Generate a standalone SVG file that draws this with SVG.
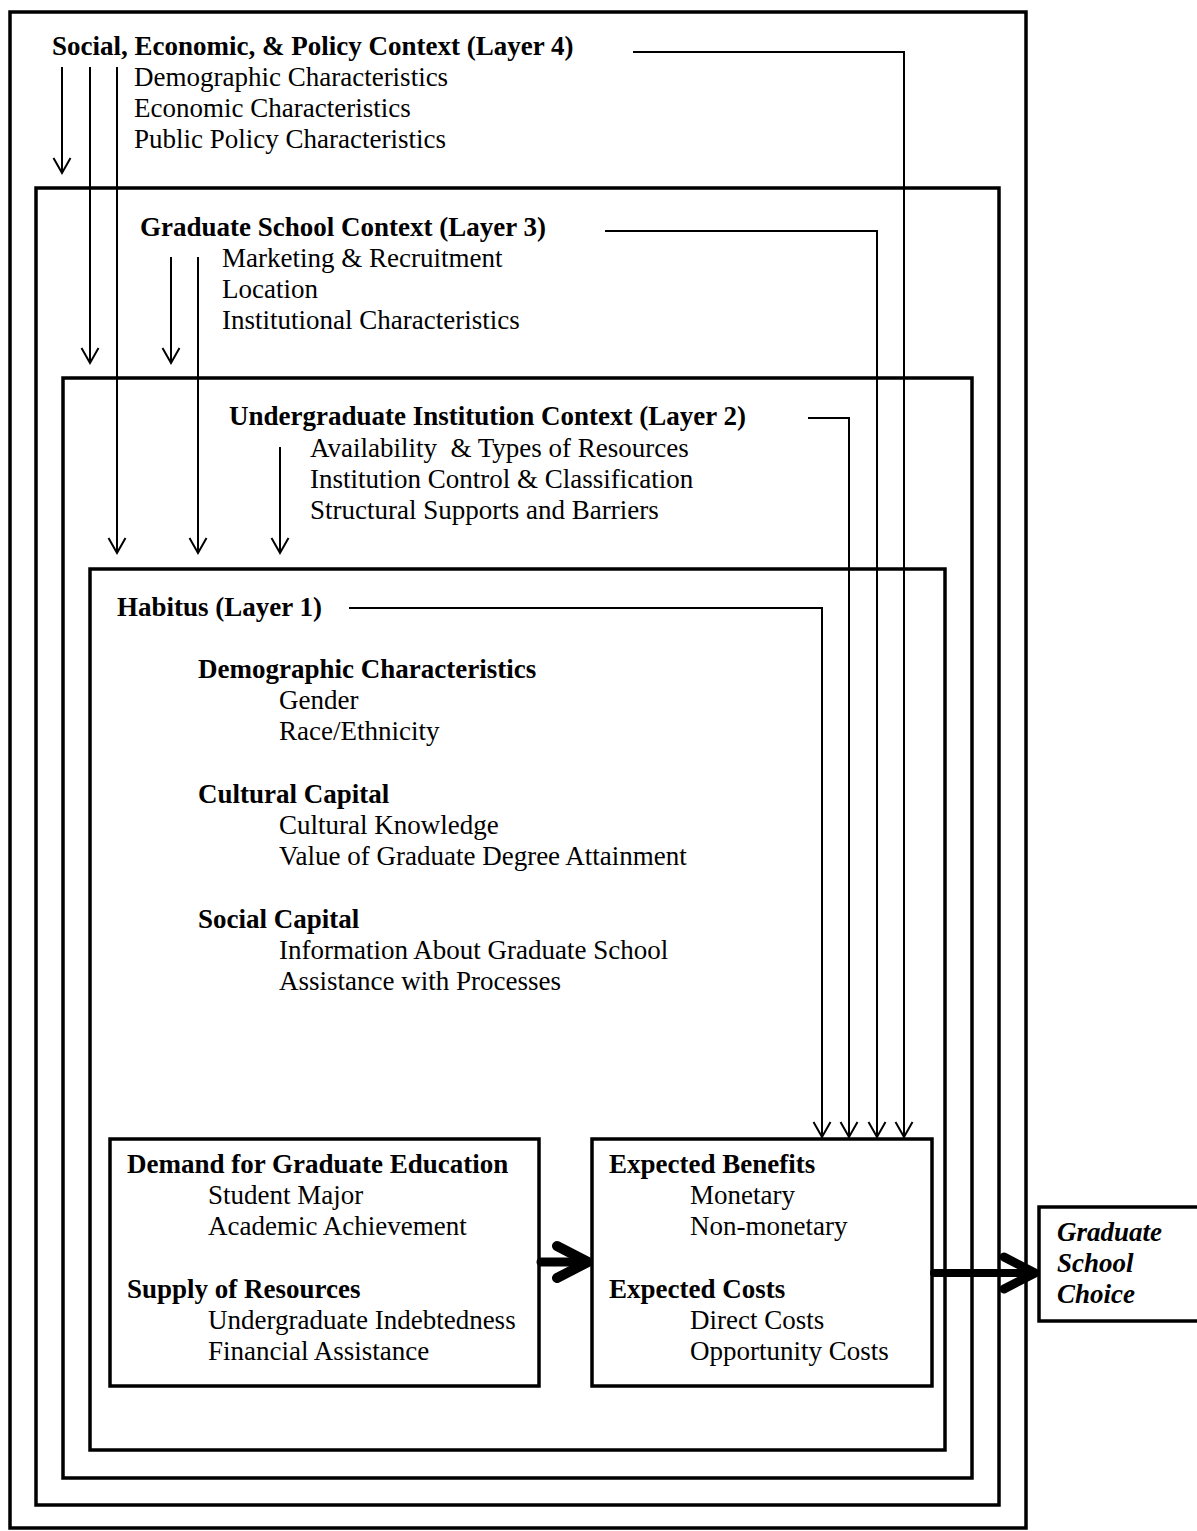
<svg xmlns="http://www.w3.org/2000/svg" width="1197" height="1531" viewBox="0 0 1197 1531">
<style>
text{font-family:"Liberation Serif","Times New Roman",serif;font-size:27px;fill:#000}
.b{font-weight:bold}
.bi{font-weight:bold;font-style:italic}
.box{fill:none;stroke:#000;stroke-width:3.5}
.fbox{fill:#fff;stroke:#000;stroke-width:3.5}
.c{fill:none;stroke:#000;stroke-width:2}
.thick{fill:none;stroke:#000;stroke-linecap:round;stroke-linejoin:round}
</style>
<defs>
<marker id="ah" markerUnits="userSpaceOnUse" markerWidth="20" markerHeight="22" viewBox="-17 -11 20 22" refX="0" refY="0" orient="auto" overflow="visible">
<path d="M-15,-8.5 L0,0 L-15,8.5" fill="none" stroke="#000" stroke-width="2"/>
</marker>
</defs>
<rect width="1197" height="1531" fill="#fff"/>
<g id="layer4">
<rect class="box" x="10" y="12" width="1016" height="1516"/>
<text class="b" x="52" y="55">Social, Economic, &amp; Policy Context (Layer 4)</text>
<text x="134" y="86">Demographic Characteristics</text>
<text x="134" y="117">Economic Characteristics</text>
<text x="134" y="148">Public Policy Characteristics</text>
</g>
<g id="layer3">
<rect class="box" x="36" y="188" width="963" height="1317"/>
<text class="b" x="140" y="236">Graduate School Context (Layer 3)</text>
<text x="222" y="267">Marketing &amp; Recruitment</text>
<text x="222" y="298">Location</text>
<text x="222" y="329">Institutional Characteristics</text>
</g>
<g id="layer2">
<rect class="box" x="63" y="378" width="909" height="1100"/>
<text class="b" x="229" y="425">Undergraduate Institution Context (Layer 2)</text>
<text x="310" y="457">Availability&#160; &amp; Types of Resources</text>
<text x="310" y="488">Institution Control &amp; Classification</text>
<text x="310" y="519">Structural Supports and Barriers</text>
</g>
<g id="layer1">
<rect class="box" x="90" y="569" width="855" height="881"/>
<text class="b" x="117" y="616">Habitus (Layer 1)</text>
<text class="b" x="198" y="678">Demographic Characteristics</text>
<text x="279" y="709">Gender</text>
<text x="279" y="740">Race/Ethnicity</text>
<text class="b" x="198" y="803">Cultural Capital</text>
<text x="279" y="834">Cultural Knowledge</text>
<text x="279" y="865">Value of Graduate Degree Attainment</text>
<text class="b" x="198" y="928">Social Capital</text>
<text x="279" y="959">Information About Graduate School</text>
<text x="279" y="990">Assistance with Processes</text>
</g>
<g id="demand">
<rect class="fbox" x="110" y="1139" width="429" height="247"/>
<text class="b" x="127" y="1173">Demand for Graduate Education</text>
<text x="208" y="1204">Student Major</text>
<text x="208" y="1235">Academic Achievement</text>
<text class="b" x="127" y="1298">Supply of Resources</text>
<text x="208" y="1329">Undergraduate Indebtedness</text>
<text x="208" y="1360">Financial Assistance</text>
</g>
<g id="expected">
<rect class="fbox" x="592" y="1139" width="340" height="247"/>
<text class="b" x="609" y="1173">Expected Benefits</text>
<text x="690" y="1204">Monetary</text>
<text x="690" y="1235">Non-monetary</text>
<text class="b" x="609" y="1298">Expected Costs</text>
<text x="690" y="1329">Direct Costs</text>
<text x="690" y="1360">Opportunity Costs</text>
</g>
<g id="choice">
<rect class="fbox" x="1039" y="1207" width="170" height="114"/>
<text class="bi" x="1057" y="1241">Graduate</text>
<text class="bi" x="1057" y="1272">School</text>
<text class="bi" x="1057" y="1303">Choice</text>
</g>
<g id="connectors">
<path class="c" d="M62,67 V173" marker-end="url(#ah)"/>
<path class="c" d="M90,67 V363" marker-end="url(#ah)"/>
<path class="c" d="M117,67 V553" marker-end="url(#ah)"/>
<path class="c" d="M171,257 V363" marker-end="url(#ah)"/>
<path class="c" d="M198,257 V553" marker-end="url(#ah)"/>
<path class="c" d="M280,447 V553" marker-end="url(#ah)"/>
<path class="c" d="M633,52 H904 V1137" marker-end="url(#ah)"/>
<path class="c" d="M605,231 H877 V1137" marker-end="url(#ah)"/>
<path class="c" d="M808,418 H849 V1137" marker-end="url(#ah)"/>
<path class="c" d="M349,608 H822 V1137" marker-end="url(#ah)"/>
<path class="thick" stroke-width="9" d="M541,1262 H586"/>
<path class="thick" stroke-width="10" d="M557,1246 L588,1262 L557,1278"/>
<path class="thick" stroke-width="8" d="M934,1273 H1033"/>
<path class="thick" stroke-width="9" d="M1004,1257 L1035,1273 L1004,1289"/>
</g>
</svg>
